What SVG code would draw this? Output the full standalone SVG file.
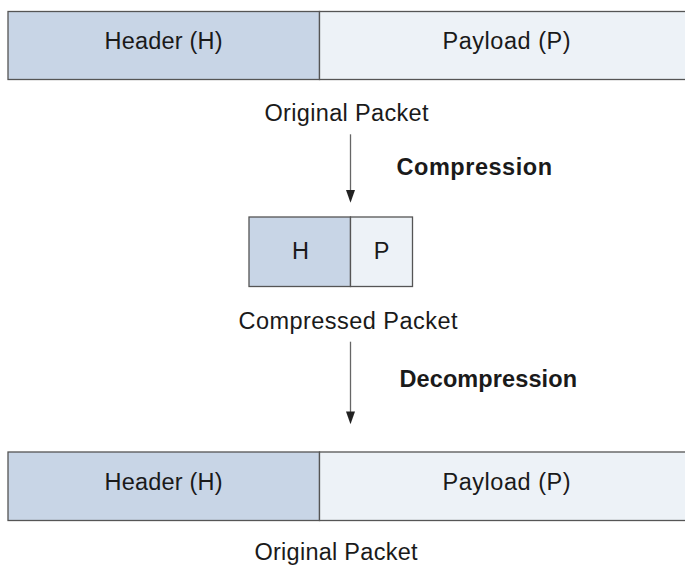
<svg xmlns="http://www.w3.org/2000/svg" width="685" height="565" viewBox="0 0 685 565">
<defs>
<style>
.hdr{fill:#c8d5e6;stroke:#555;stroke-width:1.3}
.pay{fill:#edf2f7;stroke:#555;stroke-width:1.3}
.t{font-family:"Liberation Sans",Arial,sans-serif;font-size:23.5px;fill:#1a1a1a;text-anchor:middle}
.b{font-family:"Liberation Sans",Arial,sans-serif;font-size:23.5px;font-weight:bold;fill:#1a1a1a}
.ln{stroke:#666;stroke-width:1.3;fill:none}
.head{fill:#222}
</style>
</defs>
<g id="original-top">
<rect class="hdr" x="8" y="11.5" width="311.5" height="68"/>
<rect class="pay" x="319.5" y="11.5" width="380" height="68"/>
<text class="t" x="163.5" y="49.3" textLength="118">Header (H)</text>
<text class="t" x="506.5" y="49.3" textLength="128">Payload (P)</text>
<text class="t" x="346.5" y="121" textLength="164">Original Packet</text>
</g>
<g id="compressed">
<rect class="hdr" x="249" y="217" width="101.5" height="69.5"/>
<rect class="pay" x="350.5" y="217" width="62" height="69.5"/>
<text class="t" x="300.5" y="259.3">H</text>
<text class="t" x="381.5" y="259.3">P</text>
<text class="t" x="348" y="329.3" textLength="219">Compressed Packet</text>
</g>
<g id="original-bottom">
<rect class="hdr" x="8" y="452" width="311.5" height="68.5"/>
<rect class="pay" x="319.5" y="452" width="380" height="68.5"/>
<text class="t" x="163.5" y="490" textLength="118">Header (H)</text>
<text class="t" x="506.5" y="490" textLength="128">Payload (P)</text>
<text class="t" x="336" y="559.5" textLength="163">Original Packet</text>
</g>
<g id="connectors">
<line class="ln" x1="350.5" y1="134.3" x2="350.5" y2="192"/>
<path class="head" d="M346,190 L355,190 L350.5,202.7 Z"/>
<line class="ln" x1="350.5" y1="341.7" x2="350.5" y2="413"/>
<path class="head" d="M346,411.5 L355,411.5 L350.5,424.3 Z"/>
<text class="b" x="396.5" y="175" textLength="155.5">Compression</text>
<text class="b" x="399.5" y="386.7" textLength="177.5">Decompression</text>
</g>
</svg>
